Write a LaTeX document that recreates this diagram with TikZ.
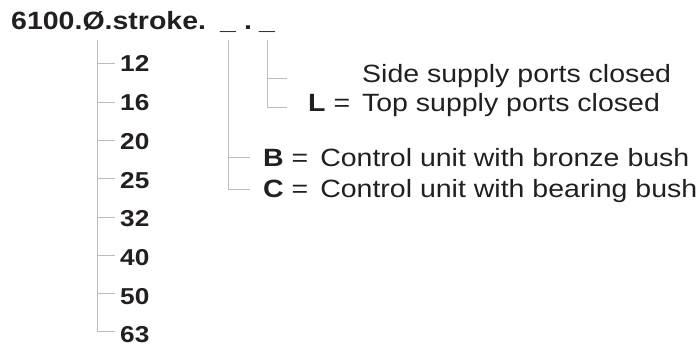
\documentclass[tikz,border=0pt]{standalone}
\usepackage{fontspec}
\setmainfont[FakeStretch=1.14]{Liberation Sans}
\definecolor{ink}{RGB}{35,31,32}
\definecolor{rule}{RGB}{188,188,188}
\tikzset{
  txt/.style={inner sep=0pt, anchor=base west, text=ink},
  head/.style={txt, font=\fontsize{25}{30}\selectfont\bfseries},
  num/.style={txt, font=\fontsize{23}{28}\selectfont\bfseries},
  desc/.style={txt, font=\fontsize{25}{30}\selectfont},
  conn/.style={draw=rule, line width=1pt},
}
\newcommand{\keyl}[1]{{\bfseries #1}}
\begin{document}
\begin{tikzpicture}[x=1pt,y=-1pt]
\path[use as bounding box] (0,0) rectangle (699,347);
% header
\node[head] (hd) at (11,30) {6100.Ø.stroke.};
\node[head] (u1) at (220,30) {\_};
\node[head] (dt) at (244,30) {.};
\node[head] (u2) at (259,30) {\_};
\coordinate (va) at (97,40);
\coordinate (vb) at (u1.south |- 0,40);
\coordinate (vc) at (u2.south |- 0,40);
% numbers
\foreach \v [count=\i] in {12,16,20,25,32,40,50,63}{
  \node[num] (n\v) at (120,{72+38.7*(\i-1)}) {\v};
}
\foreach \v [count=\i] in {12,16,20,25,32,40,50}{
  \draw[conn] (va |- 0,{64+38.3*(\i-1)}) -- (115,{64+38.3*(\i-1)});
}
\draw[conn] (va) |- (115,332);
% supply ports
\node[desc] (sd) at (362,83) {Side supply ports closed};
\node[desc] (tp) at (308,112) {\keyl{L} =\hspace{4pt} Top supply ports closed};
\coordinate (ts) at (287,79);
\coordinate (tl) at (287,108);
\draw[conn] (vc) |- (tl);
\draw[conn] (vc |- ts) -- (ts);
% control unit
\node[desc] (bb) at (263,167) {\keyl{B} =\hspace{4pt} Control unit with bronze bush};
\node[desc] (cc) at (263,198) {\keyl{C} =\hspace{4pt} Control unit with bearing bush};
\coordinate (tb) at (250,158);
\coordinate (tc) at (250,190);
\draw[conn] (vb) |- (tc);
\draw[conn] (vb |- tb) -- (tb);
\end{tikzpicture}
\end{document}
